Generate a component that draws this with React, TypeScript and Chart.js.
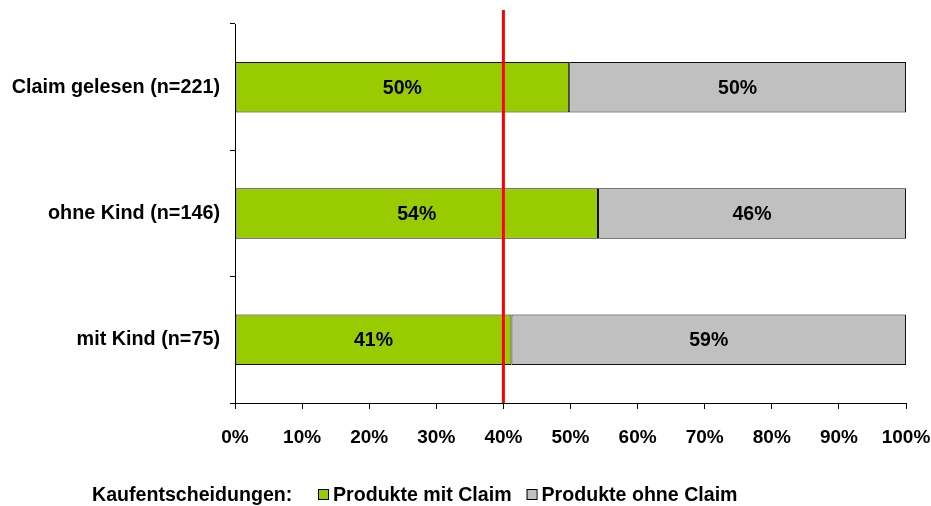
import React, { useEffect, useRef } from "react";
import { Chart, registerables } from "chart.js";

Chart.register(...registerables);

const categories = ["Claim gelesen (n=221)", "ohne Kind (n=146)", "mit Kind (n=75)"];
const withClaim = [49.8, 54.1, 41.2];
const withoutClaim = [50.2, 45.9, 58.8];
const withClaimLabels = ["50%", "54%", "41%"];
const withoutClaimLabels = ["50%", "46%", "59%"];
const seriesNames = ["Produkte mit Claim", "Produkte ohne Claim"];
const legendTitle = "Kaufentscheidungen:";
const xTicks = [0, 10, 20, 30, 40, 50, 60, 70, 80, 90, 100];
const referenceValue = 40;

const FONT = "Liberation Sans, Arial, sans-serif";
const GREEN = "#99CC00";
const GRAY = "#C0C0C0";

export default function App() {
  const ref = useRef<HTMLCanvasElement | null>(null);

  useEffect(() => {
    if (!ref.current) return;
    const labelsBySeries = [withClaimLabels, withoutClaimLabels];

    const overlay = {
      id: "overlay",
      afterDatasetsDraw(chart: any) {
        const ctx = chart.ctx;
        ctx.save();
        ctx.font = `bold 19.5px ${FONT}`;
        ctx.fillStyle = "#000";
        ctx.textAlign = "center";
        ctx.textBaseline = "middle";
        chart.data.datasets.forEach((ds: any, di: number) => {
          const meta = chart.getDatasetMeta(di);
          meta.data.forEach((bar: any, i: number) => {
            const p = bar.getProps(["x", "y", "base"], true);
            ctx.fillText(labelsBySeries[di][i], (p.x + p.base) / 2, p.y + 1);
          });
        });
        // reference line
        const xs = chart.scales.x;
        const px = xs.getPixelForValue(referenceValue);
        ctx.strokeStyle = "#FF0000";
        ctx.lineWidth = 3;
        ctx.beginPath();
        ctx.moveTo(px, chart.chartArea.top - 14);
        ctx.lineTo(px, chart.chartArea.bottom);
        ctx.stroke();
        ctx.restore();
      },
      afterDraw(chart: any) {
        const ctx = chart.ctx;
        ctx.save();
        ctx.font = `bold 19.6px ${FONT}`;
        ctx.fillStyle = "#000";
        ctx.textAlign = "left";
        ctx.textBaseline = "alphabetic";
        const baseY = 501;
        ctx.fillText(legendTitle, 92, baseY);
        let x = 318;
        chart.data.datasets.forEach((ds: any) => {
          ctx.fillStyle = ds.backgroundColor;
          ctx.fillRect(x, 489.5, 10, 10);
          ctx.strokeStyle = "#000";
          ctx.lineWidth = 1;
          ctx.strokeRect(x + 0.5, 489.5, 10, 10);
          ctx.fillStyle = "#000";
          ctx.fillText(ds.label, x + 15, baseY);
          x += 15 + ctx.measureText(ds.label).width + 15;
        });
        ctx.restore();
      },
    };

    const chart = new Chart(ref.current, {
      type: "bar",
      data: {
        labels: categories,
        datasets: [
          {
            label: seriesNames[0],
            data: withClaim,
            backgroundColor: GREEN,
            borderColor: "#111",
            borderWidth: 1,
            borderSkipped: false,
            barPercentage: 0.4,
            categoryPercentage: 1,
            clip: false,
          },
          {
            label: seriesNames[1],
            data: withoutClaim,
            backgroundColor: GRAY,
            borderColor: "#111",
            borderWidth: 1,
            borderSkipped: false,
            barPercentage: 0.4,
            categoryPercentage: 1,
            clip: false,
          },
        ],
      },
      options: {
        indexAxis: "y",
        responsive: false,
        animation: false,
        devicePixelRatio: 1,
        layout: { autoPadding: false, padding: { top: 24, right: 25, left: 0, bottom: 0 } },
        plugins: {
          legend: { display: false },
          tooltip: { enabled: false },
        },
        scales: {
          x: {
            type: "linear",
            stacked: true,
            min: 0,
            max: 100,
            afterBuildTicks(scale: any) {
              scale.ticks = xTicks.map((v) => ({ value: v }));
            },
            afterFit(scale: any) {
              scale.height = 103;
              scale.paddingLeft = 0;
              scale.paddingRight = 0;
            },
            ticks: {
              callback: (v: any) => `${v}%`,
              font: { family: FONT, size: 19, weight: "bold" },
              color: "#000",
              padding: 17,
              maxRotation: 0,
              autoSkip: false,
            },
            grid: {
              drawOnChartArea: false,
              drawTicks: true,
              tickLength: 6,
              color: "#000",
              lineWidth: 1,
            },
            border: { display: true, color: "#000", width: 1 },
          },
          y: {
            type: "category",
            stacked: true,
            afterFit(scale: any) {
              scale.width = 235;
              scale.paddingTop = 0;
              scale.paddingBottom = 0;
            },
            ticks: {
              font: { family: FONT, size: 19.8, weight: "bold" },
              color: "#000",
              padding: 10,
            },
            grid: {
              offset: true,
              drawOnChartArea: false,
              drawTicks: true,
              tickLength: 5,
              color: "#000",
              lineWidth: 1,
            },
            border: { display: true, color: "#000", width: 1 },
          },
        },
      },
      plugins: [overlay],
    } as any);

    return () => chart.destroy();
  }, []);

  return (
    <div style={{ position: "absolute", left: 0, top: 0, width: 931, height: 506, background: "#fff" }}>
      <canvas ref={ref} width={931} height={506} style={{ display: "block", width: 931, height: 506 }} />
    </div>
  );
}
